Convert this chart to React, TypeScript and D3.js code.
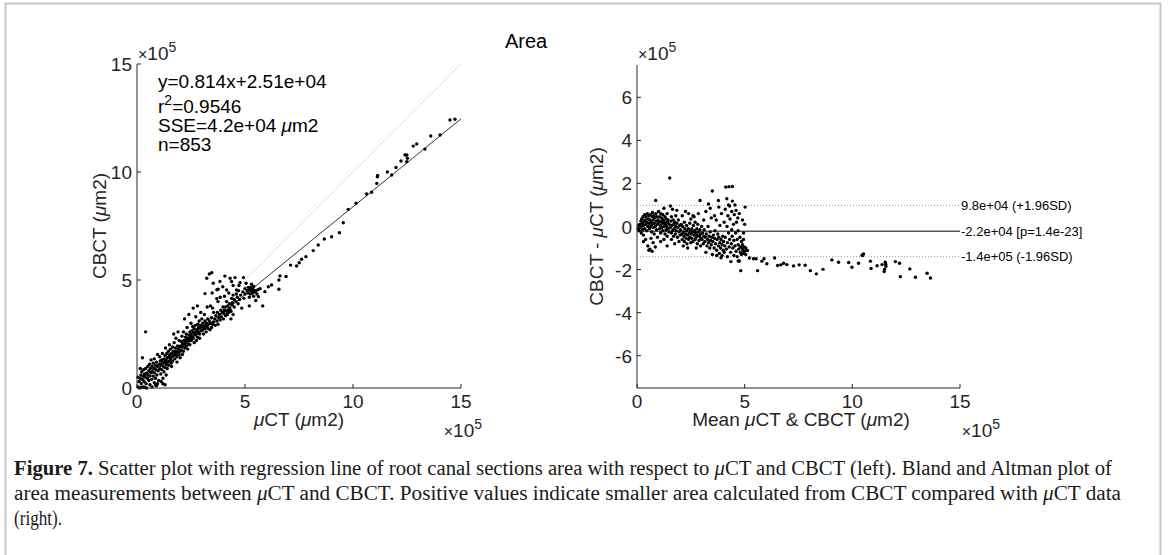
import React from 'react';
import * as d3 from 'd3';

// Left plot: (µCT, CBCT) in units of 1e5 µm2
const leftPoints: [number, number][] = [
  [0.05,0.05],[0.1,0.3],[0.12,0.0],[0.15,0.45],[0.18,0.6],[0.2,0.2],[0.22,0.75],[0.25,0.4],[0.28,0.55],[0.3,0.85],[0.3,0.05],[0.33,0.3],[0.35,0.65],[0.38,0.5],[0.4,2.6],[0.4,0.9],[0.42,0.2],[0.45,0.7],[0.48,0.45],[0.5,1.0],[0.5,0.6],[0.2,0.02],[0.35,0.02],[0.15,0.9],[0.25,1.4],[0.05,0.5],[0.45,0.0],
  [0.55,0.8],[0.55,0.35],[0.58,1.1],[0.6,0.55],[0.62,0.9],[0.65,0.7],[0.65,1.3],[0.68,0.4],[0.7,1.0],[0.72,0.75],[0.75,1.15],[0.75,0.55],[0.78,0.9],[0.8,1.35],[0.8,0.25],[0.82,0.7],[0.85,1.05],[0.85,0.45],[0.88,0.85],[0.9,1.2],[0.9,0.1],[0.92,0.6],[0.95,1.0],[0.95,1.55],[0.98,0.8],[1.0,0.35],[0.6,0.15],[0.7,0.05],[0.95,0.2],[0.85,0.15],
  [1.02,1.1],[1.05,0.9],[1.05,1.45],[1.08,1.25],[1.1,0.65],[1.1,1.05],[1.12,0.3],[1.15,1.3],[1.15,0.85],[1.18,1.6],[1.2,1.15],[1.2,0.45],[1.22,1.0],[1.25,1.35],[1.25,0.75],[1.28,1.2],[1.3,1.5],[1.3,0.95],[1.32,1.85],[1.35,1.3],[1.35,1.1],[1.38,1.6],[1.4,0.9],[1.4,1.4],[1.42,1.2],[1.45,1.7],[1.45,1.05],[1.48,1.45],[1.5,1.25],[1.5,2.0],[1.2,0.2],[1.3,0.15],[1.35,0.6],
  [1.52,1.55],[1.55,1.35],[1.55,1.8],[1.58,1.15],[1.6,1.6],[1.62,1.45],[1.65,1.9],[1.65,1.25],[1.68,1.7],[1.7,1.5],[1.72,2.1],[1.75,1.6],[1.75,1.35],[1.78,1.85],[1.8,1.55],[1.8,2.3],[1.82,1.7],[1.85,1.45],[1.88,1.95],[1.9,1.65],[1.92,1.8],[1.95,1.55],[1.95,2.2],[1.98,1.9],[2.0,1.7],[1.6,1.0],[1.7,2.5],[1.9,2.6],[1.85,1.2],[2.0,1.4],
  [2.02,1.95],[2.05,2.15],[2.05,1.75],[2.08,2.4],[2.1,1.9],[2.12,2.05],[2.15,2.6],[2.15,1.7],[2.18,2.2],[2.2,2.0],[2.22,1.85],[2.25,2.35],[2.25,2.1],[2.28,2.5],[2.3,2.2],[2.3,1.95],[2.32,2.8],[2.35,2.3],[2.38,2.05],[2.4,2.45],[2.4,3.4],[2.42,2.2],[2.45,2.6],[2.45,2.0],[2.48,2.35],[2.5,2.5],[2.5,3.0],[2.1,1.55],[2.2,3.2],[2.35,1.8],
  [2.52,2.2],[2.55,2.65],[2.55,2.4],[2.58,2.85],[2.6,2.3],[2.6,3.7],[2.62,2.55],[2.65,2.75],[2.65,2.1],[2.68,2.45],[2.7,2.9],[2.7,2.6],[2.72,3.3],[2.75,2.5],[2.78,2.7],[2.8,2.35],[2.8,3.8],[2.82,2.95],[2.85,2.6],[2.85,2.8],[2.88,3.1],[2.9,2.5],[2.92,2.75],[2.95,2.9],[2.95,3.5],[2.98,2.65],[3.0,2.85],[2.75,2.2],[2.9,2.3],[3.0,3.2],
  [3.05,2.7],[3.05,3.0],[3.08,2.5],[3.1,2.85],[3.12,3.4],[3.15,2.75],[3.15,3.1],[3.18,2.9],[3.23,5.08],[3.2,2.6],[3.22,3.0],[3.25,2.85],[3.28,3.2],[3.35,5.28],[3.3,2.75],[3.32,2.95],[3.35,3.1],[3.38,2.7],[3.4,3.0],[3.46,5.34],[3.45,2.8],[3.45,3.25],[3.48,4.4],[3.5,2.95],[3.5,3.7],[3.4,3.8],[3.15,4.37],[3.25,3.75],[3.55,3.5],
  [3.55,3.05],[3.6,3.2],[3.53,4.85],[3.62,2.9],[3.65,3.35],[3.69,4.14],[3.7,3.1],[3.72,3.5],[3.75,4.0],[3.75,2.95],[3.78,3.25],[3.76,4.57],[3.82,3.4],[3.85,3.15],[3.85,4.2],[3.88,3.6],[3.84,4.93],[3.9,3.3],[3.97,4.69],[3.95,3.5],[3.98,3.75],[4.0,3.2],[4.07,5.18],[3.7,4.55],
  [4.02,3.45],[4.05,3.6],[4.05,4.25],[4.1,3.35],[4.1,3.75],[4.15,4.54],[4.15,3.55],[4.15,4.0],[4.18,3.4],[4.2,3.8],[4.22,3.6],[4.25,4.4],[4.25,3.5],[4.28,3.9],[4.31,5.08],[4.3,3.7],[4.38,4.93],[4.35,3.55],[4.38,4.15],[4.4,3.85],[4.45,4.75],[4.42,3.95],[4.45,4.3],[4.54,5.11],[4.5,3.75],[4.5,4.1],[4.35,3.2],[4.45,3.4],[4.31,3.6],
  [4.61,4.54],[4.58,4.0],[4.6,4.35],[4.77,4.88],[4.65,4.2],[4.68,3.9],[4.7,4.5],[4.72,4.75],[4.75,4.1],[4.93,5.11],[4.8,4.3],[4.85,3.7],[4.9,4.45],[4.95,4.15],[5.0,4.6],[5.0,4.35],[5.05,4.85],[5.1,4.5],[5.15,4.66],[5.15,4.4],[5.2,4.55],[5.25,4.65],[5.25,4.35],[5.3,4.5],[5.35,4.6],[5.39,4.54],[5.35,4.4],[5.4,4.7],[5.45,4.45],[5.5,4.5],[5.3,4.8],[5.4,4.25],[5.55,4.35],[5.6,4.55],[5.2,3.8],[5.5,4.05],[5.2,4.2],
  [5.62,4.23],[5.7,4.6],[5.82,3.8],[5.92,4.46],[6.08,4.69],[6.23,4.77],[6.57,4.57],[6.62,5.19],[6.57,5.0],[6.9,5.16],[7.11,5.69],[7.39,5.65],[7.51,5.8],[7.62,5.96],[7.82,6.08],[8.16,6.36],[8.39,6.62],[8.67,6.9],[9.01,7.0],[9.37,7.19],[9.55,7.65],[9.78,8.27],[10.14,8.55],[10.63,8.98],[10.86,9.06],[11.1,9.47],[11.13,9.78],[11.14,9.84],[11.59,10.0],[11.79,9.86],[11.99,10.21],[12.22,10.51],[12.41,10.79],[12.49,10.79],[12.52,10.64],[12.49,10.48],[12.79,11.2],[12.95,11.3],[13.33,11.06],[13.6,11.67],[14.03,11.71],[14.49,12.41],[14.72,12.44],
];

// Right plot: (mean of µCT & CBCT, CBCT - µCT) in units of 1e5 µm2
const rightPoints: [number, number][] = [
  [0.05,-0.1],[0.08,0.05],[0.1,-0.2],[0.12,0.1],[0.15,-0.05],[0.18,0.25],[0.2,0.0],[0.2,-0.3],[0.22,0.35],[0.25,0.15],[0.25,-0.15],[0.28,0.45],[0.3,0.05],[0.3,-0.4],[0.32,0.25],[0.35,0.55],[0.35,-0.1],[0.38,0.3],[0.4,0.1],[0.4,-0.6],[0.42,0.45],[0.45,-0.2],[0.45,0.2],[0.48,0.6],[0.5,0.0],[0.5,-0.9],[0.55,-1.1],[0.6,-1.05],[0.3,-0.7],
  [0.52,0.35],[0.55,0.15],[0.55,0.5],[0.58,-0.1],[0.6,0.3],[0.62,0.55],[0.62,0.0],[0.65,0.2],[0.68,-0.25],[0.7,0.45],[0.7,0.1],[0.72,0.65],[0.75,-0.05],[0.75,0.3],[0.78,0.5],[0.8,0.15],[0.8,-0.35],[0.82,0.4],[0.85,0.0],[0.87,1.21],[0.88,0.6],[0.9,0.25],[0.9,-0.15],[0.92,0.45],[0.95,0.1],[0.95,-0.5],[0.98,0.3],[1.0,0.7],[0.7,-1.15],[0.75,-0.75],[0.65,-0.55],[0.85,-0.95],
  [1.02,0.2],[1.05,-0.1],[1.05,0.45],[1.08,0.05],[1.1,0.6],[1.1,-0.3],[1.12,0.25],[1.15,0.4],[1.15,-0.05],[1.18,0.15],[1.2,0.55],[1.2,-0.2],[1.22,0.3],[1.25,0.0],[1.25,0.85],[1.28,0.2],[1.3,-0.35],[1.3,0.45],[1.32,0.1],[1.35,-0.15],[1.35,0.35],[1.38,0.0],[1.4,0.6],[1.4,-0.45],[1.42,0.2],[1.45,-0.1],[1.45,0.3],[1.48,-0.25],[1.5,0.1],[1.52,2.25],[1.55,0.95],[1.1,-0.7],[1.25,-0.6],[1.4,-0.9],
  [1.55,-0.05],[1.58,0.25],[1.6,-0.3],[1.6,0.45],[1.62,0.05],[1.65,-0.2],[1.68,0.3],[1.7,-0.45],[1.7,0.1],[1.72,-0.1],[1.75,0.2],[1.78,-0.35],[1.8,0.0],[1.8,0.5],[1.82,-0.2],[1.85,0.15],[1.88,-0.5],[1.9,-0.05],[1.92,0.3],[1.95,-0.25],[1.98,0.05],[2.0,-0.4],[1.65,0.8],[1.85,0.75],[1.75,-0.8],[1.95,-0.7],[1.6,-0.6],
  [2.02,-0.15],[2.05,0.1],[2.08,-0.35],[2.1,-0.6],[2.12,0.0],[2.15,-0.25],[2.18,-0.45],[2.2,0.2],[2.2,-0.7],[2.22,-0.1],[2.25,-0.35],[2.28,-0.55],[2.3,0.05],[2.3,-0.2],[2.32,-0.8],[2.35,-0.4],[2.38,-0.1],[2.4,-0.6],[2.42,-0.3],[2.45,0.15],[2.45,-0.5],[2.48,-0.2],[2.5,-0.75],[2.1,0.5],[2.25,0.7],[2.4,0.6],[2.35,-1.0],[2.15,-0.9],[2.5,0.35],
  [2.52,-0.35],[2.55,-0.1],[2.55,-0.55],[2.58,-0.25],[2.6,-0.7],[2.62,0.05],[2.65,-0.4],[2.68,-0.2],[2.7,-0.6],[2.7,0.2],[2.72,-0.3],[2.75,-0.5],[2.78,-0.1],[2.8,-0.8],[2.8,-0.4],[2.82,0.1],[2.85,-0.25],[2.88,-0.65],[2.9,-0.45],[2.92,-0.15],[2.95,-0.9],[2.95,-0.35],[2.98,-0.55],[3.0,0.0],[2.6,0.5],[2.93,1.21],[2.75,-1.0],[2.65,0.45],[2.85,0.6],
  [3.02,-0.6],[3.05,-0.3],[3.08,-0.8],[3.1,-0.45],[3.12,-0.15],[3.15,-0.7],[3.18,-0.5],[3.2,-1.2],[3.22,-0.35],[3.25,-0.9],[3.28,-0.6],[3.3,0.0],[3.32,1.05],[3.32,-0.75],[3.35,-0.45],[3.38,-1.0],[3.4,-0.25],[3.42,-0.65],[3.45,0.4],[3.45,-0.85],[3.48,-0.5],[3.5,1.65],[3.5,-1.3],[3.2,0.7],[3.4,0.85],[3.1,0.3],
  [3.52,-0.7],[3.55,-0.4],[3.58,-1.0],[3.6,-0.55],[3.62,-0.2],[3.65,-0.8],[3.68,0.3],[3.7,-1.1],[3.72,-0.6],[3.75,-0.35],[3.78,1.21],[3.78,-0.9],[3.8,-0.5],[3.82,-1.25],[3.85,0.05],[3.85,-0.75],[3.88,-1.0],[3.9,-0.6],[3.92,0.6],[3.95,-0.85],[3.95,-1.35],[3.98,-0.45],[4.0,-1.1],[3.6,0.5],[3.8,0.9],[3.7,-1.35],[3.9,-1.45],
  [4.02,-0.7],[4.05,0.2],[4.05,-1.2],[4.08,-0.9],[4.1,0.8],[4.1,-0.5],[4.12,1.83],[4.15,-1.05],[4.17,1.29],[4.18,0.0],[4.2,-0.75],[4.2,-1.4],[4.22,0.5],[4.25,-0.3],[4.25,1.0],[4.27,1.85],[4.28,-0.95],[4.3,-0.6],[4.32,0.35],[4.35,-1.2],[4.36,-1.63],[4.38,-0.8],[4.4,0.7],[4.43,1.86],[4.42,-0.45],[4.43,1.18],[4.45,-1.0],[4.48,0.1],[4.5,-0.65],[4.5,-1.35],[4.3,0.95],[4.4,-0.15],
  [4.52,0.55],[4.55,-0.9],[4.55,1.0],[4.58,-0.3],[4.6,-1.15],[4.6,0.75],[4.62,0.2],[4.65,-0.6],[4.65,-1.4],[4.68,0.4],[4.7,-0.85],[4.7,-0.2],[4.72,-1.05],[4.75,0.6],[4.75,-1.6],[4.78,-0.5],[4.8,-1.2],[4.8,-0.95],[4.82,-2.05],[4.85,-0.7],[4.85,-1.3],[4.88,-1.0],[4.9,-0.85],[4.9,0.3],[4.92,-1.1],[4.95,-1.25],[4.95,-0.6],[4.98,-0.95],[5.0,-1.15],[5.0,0.1],[5.05,-1.0],[5.05,-1.3],[5.1,-1.1],[5.13,-1.12],[5.02,0.9],[4.95,-0.3],[4.7,-1.6],
  [5.22,-1.46],[5.41,-1.5],[5.53,-1.5],[5.6,-2.05],[5.8,-1.61],[5.9,-1.5],[6.03,-1.73],[6.39,-1.46],[6.53,-1.81],[6.68,-1.78],[6.81,-1.71],[6.96,-1.77],[7.27,-1.83],[7.53,-1.78],[7.81,-1.8],[8.05,-2.05],[8.33,-2.2],[8.64,-1.99],[9.05,-1.55],[9.36,-1.66],[9.83,-1.67],[9.98,-1.89],[10.29,-1.71],[10.45,-1.33],[10.52,-1.27],[10.48,-1.35],[10.84,-1.61],[10.87,-1.95],[11.15,-1.82],[11.38,-1.77],[11.53,-1.66],[11.55,-1.75],[11.56,-1.85],[11.5,-1.98],[11.48,-2.09],[12.0,-1.63],[12.19,-1.71],[12.23,-2.33],[12.67,-1.97],[12.93,-2.36],[13.47,-2.17],[13.63,-2.39],
];

const leftTicks = [0, 5, 10, 15];
const rightXTicks = [0, 5, 10, 15];
const rightYTicks = [-6, -4, -2, 0, 2, 4, 6];
const fitSlope = 0.814;
const fitIntercept = 0.251;
const baMean = -0.22;
const baUpper = 0.98;
const baLower = -1.4;
const baLabels = ['9.8e+04 (+1.96SD)', '-2.2e+04 [p=1.4e-23]', '-1.4e+05 (-1.96SD)'];

const AX = '#262626';
const SANS = '"Liberation Sans", Arial, Helvetica, sans-serif';
const SERIF = '"Liberation Serif", "Times New Roman", serif';
const FS = 19;

function Times10({ x, y, anchor }: { x: number; y: number; anchor?: 'start' | 'end' }) {
  return (
    <text x={x} y={y} textAnchor={anchor || 'start'} fontFamily={SANS} fontSize={FS} fill={AX}>
      <tspan fontSize={16}>×</tspan>10<tspan dy={-8} fontSize={14}>5</tspan>
    </text>
  );
}

export default function App() {
  const xL = d3.scaleLinear().domain([0, 15]).range([137, 461]);
  const yL = d3.scaleLinear().domain([0, 15]).range([388, 64]);
  const xR = d3.scaleLinear().domain([0, 15]).range([637, 960]);
  const yR = d3.scaleLinear().domain([-7.5, 7.5]).range([388, 65]);
  const tick = 4;

  return (
    <svg width={1170} height={555} style={{ position: 'absolute', left: 0, top: 0, background: '#fff' }}>
      {/* frame */}
      <path d="M5.5,560 V3.5 H1160.5 V560" fill="none" stroke="#c8c8c8" strokeWidth={2} />

      {/* title */}
      <text x={526} y={48} textAnchor="middle" fontFamily={SANS} fontSize={20} fill="#000">Area</text>

      {/* ---------- Left plot ---------- */}
      <line x1={xL(0)} y1={yL(0)} x2={xL(15)} y2={yL(15)} stroke="#b5b5b5" strokeWidth={1} strokeDasharray="1,2" />
      <line x1={xL(0)} y1={yL(fitIntercept)} x2={xL(15)} y2={yL(fitSlope * 15 + fitIntercept)} stroke="#333" strokeWidth={1} />
      {leftPoints.map((p, i) => (
        <circle key={'l' + i} cx={xL(p[0])} cy={yL(p[1])} r={1.7} fill="#000" />
      ))}
      <line x1={xL(0)} y1={yL(0)} x2={xL(15)} y2={yL(0)} stroke={AX} strokeWidth={1} />
      <line x1={xL(0)} y1={yL(0)} x2={xL(0)} y2={yL(15)} stroke={AX} strokeWidth={1} />
      {leftTicks.map((t) => (
        <g key={'lx' + t}>
          <line x1={xL(t)} y1={yL(0)} x2={xL(t)} y2={yL(0) - tick} stroke={AX} />
          <text x={xL(t)} y={yL(0) + 20} textAnchor="middle" fontFamily={SANS} fontSize={FS} fill={AX}>{t}</text>
          <line x1={xL(0)} y1={yL(t)} x2={xL(0) + tick} y2={yL(t)} stroke={AX} />
          <text x={xL(0) - 5} y={yL(t) + 7} textAnchor="end" fontFamily={SANS} fontSize={FS} fill={AX}>{t}</text>
        </g>
      ))}
      <Times10 x={138} y={60} />
      <Times10 x={482} y={437} anchor="end" />
      <text x={299} y={426} textAnchor="middle" fontFamily={SANS} fontSize={FS} fill={AX}>
        <tspan fontStyle="italic">μ</tspan>CT (<tspan fontStyle="italic">μ</tspan>m2)
      </text>
      <text transform={`translate(106,${yL(7.5)}) rotate(-90)`} textAnchor="middle" fontFamily={SANS} fontSize={FS} fill={AX}>
        CBCT (<tspan fontStyle="italic">μ</tspan>m2)
      </text>
      <g fontFamily={SANS} fontSize={FS} fill="#000">
        <text x={158} y={88}>y=0.814x+2.51e+04</text>
        <text x={158} y={113}>r<tspan dy={-8} fontSize={14}>2</tspan><tspan dy={8}>=0.9546</tspan></text>
        <text x={158} y={132}>SSE=4.2e+04 <tspan fontStyle="italic">μ</tspan>m2</text>
        <text x={158} y={151}>n=853</text>
      </g>

      {/* ---------- Right plot ---------- */}
      <line x1={xR(0)} y1={yR(baUpper)} x2={xR(15)} y2={yR(baUpper)} stroke="#9a9a9a" strokeWidth={1} strokeDasharray="1,2" />
      <line x1={xR(0)} y1={yR(baLower)} x2={xR(15)} y2={yR(baLower)} stroke="#9a9a9a" strokeWidth={1} strokeDasharray="1,2" />
      <line x1={xR(0)} y1={yR(baMean)} x2={xR(15)} y2={yR(baMean)} stroke="#5a5a5a" strokeWidth={1.3} />
      {rightPoints.map((p, i) => (
        <circle key={'r' + i} cx={xR(p[0])} cy={yR(p[1])} r={1.7} fill="#000" />
      ))}
      <line x1={xR(0)} y1={yR(-7.5)} x2={xR(15)} y2={yR(-7.5)} stroke={AX} strokeWidth={1} />
      <line x1={xR(0)} y1={yR(-7.5)} x2={xR(0)} y2={yR(7.5)} stroke={AX} strokeWidth={1} />
      {rightXTicks.map((t) => (
        <g key={'rx' + t}>
          <line x1={xR(t)} y1={yR(-7.5)} x2={xR(t)} y2={yR(-7.5) - tick} stroke={AX} />
          <text x={xR(t)} y={yR(-7.5) + 20} textAnchor="middle" fontFamily={SANS} fontSize={FS} fill={AX}>{t}</text>
        </g>
      ))}
      {rightYTicks.map((t) => (
        <g key={'ry' + t}>
          <line x1={xR(0)} y1={yR(t)} x2={xR(0) + tick} y2={yR(t)} stroke={AX} />
          <text x={xR(0) - 5} y={yR(t) + 7} textAnchor="end" fontFamily={SANS} fontSize={FS} fill={AX}>{t}</text>
        </g>
      ))}
      {[baUpper, baMean, baLower].map((v, i) => (
        <text key={'bl' + i} x={xR(15) + 1} y={yR(v) + 4.5} fontFamily={SANS} fontSize={13} fill="#000">{baLabels[i]}</text>
      ))}
      <Times10 x={638} y={60} />
      <Times10 x={1000} y={437} anchor="end" />
      <text x={801} y={426} textAnchor="middle" fontFamily={SANS} fontSize={FS} fill={AX}>
        Mean <tspan fontStyle="italic">μ</tspan>CT &amp; CBCT (<tspan fontStyle="italic">μ</tspan>m2)
      </text>
      <text transform={`translate(603,${yR(0)}) rotate(-90)`} textAnchor="middle" fontFamily={SANS} fontSize={FS} fill={AX}>
        CBCT - <tspan fontStyle="italic">μ</tspan>CT (<tspan fontStyle="italic">μ</tspan>m2)
      </text>

      {/* ---------- Caption ---------- */}
      <g fontFamily={SERIF} fontSize={20} fill="#1a1a1a">
        <text x={14} y={475} textLength={1098} lengthAdjust="spacingAndGlyphs">
          <tspan fontWeight="bold">Figure 7.</tspan>{'  Scatter plot with regression line of root canal sections area with respect to '}
          <tspan fontStyle="italic">μ</tspan>{'CT and CBCT (left). Bland and Altman plot of'}
        </text>
        <text x={14} y={500} textLength={1107} lengthAdjust="spacingAndGlyphs">
          {'area measurements between '}<tspan fontStyle="italic">μ</tspan>{'CT and CBCT. Positive values indicate smaller area calculated from CBCT compared with '}
          <tspan fontStyle="italic">μ</tspan>{'CT data'}
        </text>
        <text x={14} y={525} textLength={48} lengthAdjust="spacingAndGlyphs">(right).</text>
      </g>
    </svg>
  );
}
